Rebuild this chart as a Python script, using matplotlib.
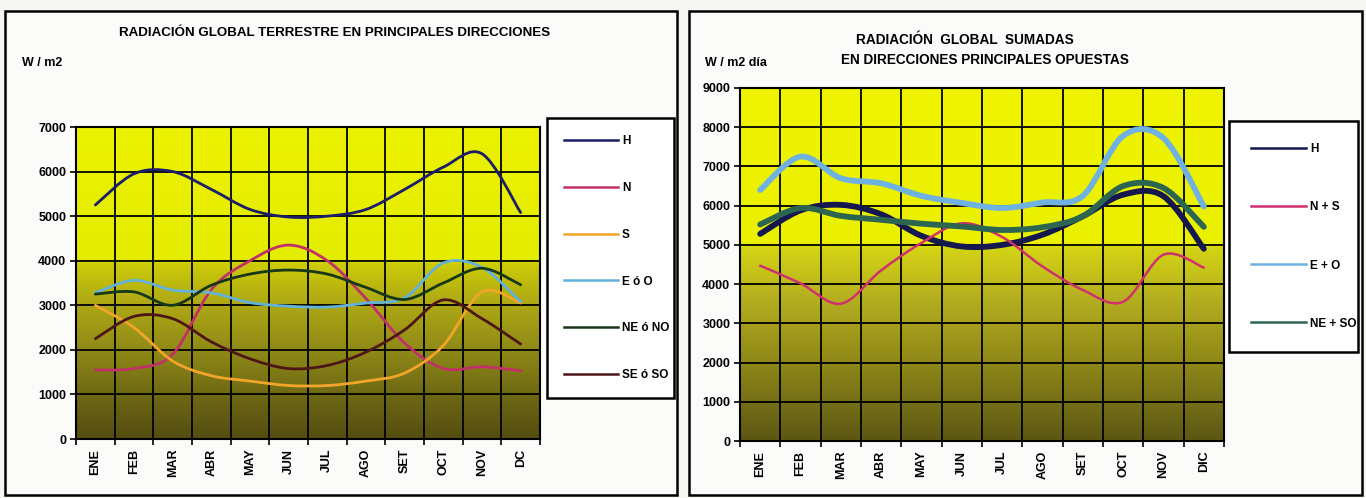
import numpy as np
import matplotlib
matplotlib.use('Agg')
import matplotlib.pyplot as plt
from matplotlib.path import Path
from matplotlib.patches import PathPatch, Rectangle
from matplotlib.lines import Line2D
from matplotlib.colors import LinearSegmentedColormap

plt.rcParams['font.family'] = ['Liberation Sans', 'DejaVu Sans']

# data
meses_izq = ['ENE', 'FEB', 'MAR', 'ABR', 'MAY', 'JUN', 'JUL', 'AGO', 'SET', 'OCT', 'NOV', 'DC']
meses_der = ['ENE', 'FEB', 'MAR', 'ABR', 'MAY', 'JUN', 'JUL', 'AGO', 'SET', 'OCT', 'NOV', 'DIC']

h = [5250, 5950, 6000, 5600, 5150, 4980, 5000, 5150, 5600, 6100, 6400, 5080]
n = [1550, 1580, 1900, 3350, 4000, 4350, 4000, 3150, 2150, 1580, 1620, 1530]
s = [3000, 2500, 1750, 1420, 1300, 1200, 1200, 1300, 1480, 2100, 3300, 3050]
e_o = [3280, 3560, 3340, 3280, 3060, 2980, 2960, 3050, 3170, 3950, 3850, 3080]
ne_no = [3250, 3300, 3000, 3450, 3700, 3790, 3700, 3400, 3130, 3500, 3830, 3460]
se_so = [2250, 2750, 2700, 2180, 1800, 1580, 1650, 1950, 2450, 3120, 2700, 2130]

h2 = [5280, 5880, 6020, 5780, 5230, 4960, 5000, 5260, 5730, 6280, 6240, 4900]
n_s = [4470, 4020, 3500, 4350, 5050, 5550, 5200, 4450, 3850, 3550, 4750, 4420]
e_mas_o = [6400, 7250, 6700, 6570, 6250, 6070, 5940, 6080, 6250, 7780, 7720, 5980]
ne_so = [5520, 5940, 5740, 5640, 5540, 5470, 5380, 5450, 5730, 6500, 6450, 5460]

izq_series = [('H', h, '#1b1d6b'), ('N', n, '#c2306a'), ('S', s, '#f2a52a'),
              ('E ó O', e_o, '#62b2da'), ('NE ó NO', ne_no, '#163816'),
              ('SE ó SO', se_so, '#4e1616')]
der_series = [('H', h2, '#15174f', 4.2), ('N + S', n_s, '#d0306e', 1.8),
              ('E + O', e_mas_o, '#6fb2e2', 4.2), ('NE + SO', ne_so, '#2d6650', 4.2)]


def suave(ax, ys, color, lw):
    # excel style smoothed line: catmull-rom segments as cubic bezier
    x = np.arange(len(ys), dtype=float)
    y = np.asarray(ys, dtype=float)
    p = np.column_stack([x, y])
    pp = np.vstack([p[0], p, p[-1]])
    verts = [p[0]]
    codes = [Path.MOVETO]
    for i in range(1, len(pp) - 2):
        c1 = pp[i] + (pp[i + 1] - pp[i - 1]) / 6.0
        c2 = pp[i + 1] - (pp[i + 2] - pp[i]) / 6.0
        verts += [c1, c2, pp[i + 1]]
        codes += [Path.CURVE4] * 3
    ax.add_patch(PathPatch(Path(verts, codes), fill=False, edgecolor=color,
                           lw=lw, capstyle='round', joinstyle='round', zorder=3))


def fondo(ax, ymax, cmap):
    grad = np.linspace(0, 1, 256).reshape(-1, 1)
    ax.imshow(grad, aspect='auto', cmap=cmap, origin='lower',
              extent=(-0.5, 11.5, 0, ymax), zorder=0)


def ejes(ax, meses, ymax):
    ax.set_xlim(-0.5, 11.5)
    ax.set_ylim(0, ymax)
    ax.set_xticks(range(12))
    ax.set_xticklabels(meses, rotation=90, fontsize=9, fontweight='bold')
    ax.set_xticks(np.arange(-0.5, 12, 1), minor=True)
    ax.set_yticks(range(0, ymax + 1, 1000))
    ax.set_yticklabels([str(v) for v in range(0, ymax + 1, 1000)],
                       fontsize=9, fontweight='bold')
    ax.tick_params(axis='x', which='major', length=0, pad=7)
    ax.tick_params(axis='x', which='minor', length=4, width=1.2, direction='out')
    ax.tick_params(axis='y', length=4, width=1.2, pad=3)
    ax.grid(True, axis='y', which='major', color='black', lw=1.3, zorder=1)
    ax.grid(True, axis='x', which='minor', color='black', lw=1.3, zorder=1)
    ax.set_axisbelow(False)
    for sp in ax.spines.values():
        sp.set_color('black')
        sp.set_linewidth(1.5)


fig = plt.figure(figsize=(13.66, 4.98), dpi=100)
fig.patch.set_facecolor('#f6f6f3')

W, H = 1366.0, 498.0

# outer frames
for x0, w in [(5, 672), (689, 673)]:
    fig.patches.append(Rectangle((x0 / W, 1 - 495 / H), w / W, 484 / H, transform=fig.transFigure,
                                 fill=True, facecolor='#fbfbf9', edgecolor='black', lw=1.8,
                                 zorder=-5))

cmap_izq = LinearSegmentedColormap.from_list('izq', [
    (0.0, '#554d10'), (0.14, '#6e6814'), (0.3, '#938d18'), (0.45, '#b2ac14'),
    (0.56, '#cccc08'), (0.575, '#e4ec00'), (1.0, '#ecf200')])
cmap_der = LinearSegmentedColormap.from_list('der', [
    (0.0, '#5c5614'), (0.12, '#787218'), (0.25, '#958e18'), (0.4, '#b4ae20'),
    (0.545, '#d4d414'), (0.56, '#eaf000'), (1.0, '#f0f400')])

# left chart
ax1 = fig.add_axes([76 / W, 1 - 439 / H, 464 / W, 312 / H])
fondo(ax1, 7000, cmap_izq)
ejes(ax1, meses_izq, 7000)
for nombre, vals, col in izq_series:
    suave(ax1, vals, col, 2.0)

fig.text(335 / W, 1 - 33 / H, 'RADIACIÓN GLOBAL TERRESTRE EN PRINCIPALES DIRECCIONES',
         ha='center', va='center', fontsize=9.6, fontweight='bold')
fig.text(22 / W, 1 - 63 / H, 'W / m2', ha='left', va='center', fontsize=9, fontweight='bold')

hand1 = [Line2D([], [], color=c, lw=1.8) for _, _, c in izq_series]
leg1 = fig.legend(hand1, [nm for nm, _, _ in izq_series], loc='upper left',
                  bbox_to_anchor=(547 / W, 1 - 123 / H, 127 / W, 0.01), mode='expand',
                  prop={'weight': 'bold', 'size': 8.5}, frameon=True, fancybox=False,
                  edgecolor='black', framealpha=1, facecolor='white', handlelength=4.6,
                  handletextpad=0.3, labelspacing=2.95, borderpad=1.45, borderaxespad=0)
leg1.get_frame().set_linewidth(1.8)

# right chart
ax2 = fig.add_axes([740 / W, 1 - 441 / H, 484 / W, 353 / H])
fondo(ax2, 9000, cmap_der)
ejes(ax2, meses_der, 9000)
for nombre, vals, col, lw in der_series:
    suave(ax2, vals, col, lw)

fig.text(965 / W, 1 - 40 / H, 'RADIACIÓN  GLOBAL  SUMADAS', ha='center', va='center',
         fontsize=9.8, fontweight='bold')
fig.text(985 / W, 1 - 60 / H, 'EN DIRECCIONES PRINCIPALES OPUESTAS', ha='center', va='center',
         fontsize=9.8, fontweight='bold')
fig.text(705 / W, 1 - 63 / H, 'W / m2 día', ha='left', va='center', fontsize=9, fontweight='bold')

hand2 = [Line2D([], [], color=c, lw=1.8) for _, _, c, _ in der_series]
leg2 = fig.legend(hand2, [nm for nm, _, _, _ in der_series], loc='upper left',
                  bbox_to_anchor=(1229 / W, 1 - 126 / H, 129 / W, 0.01), mode='expand',
                  prop={'weight': 'bold', 'size': 8.5}, frameon=True, fancybox=False,
                  edgecolor='black', framealpha=1, facecolor='white', handlelength=4.6,
                  handletextpad=0.4, labelspacing=3.9, borderpad=1.9, borderaxespad=0)
leg2.get_frame().set_linewidth(1.8)

fig.savefig('out.png', dpi=100, facecolor=fig.get_facecolor())
